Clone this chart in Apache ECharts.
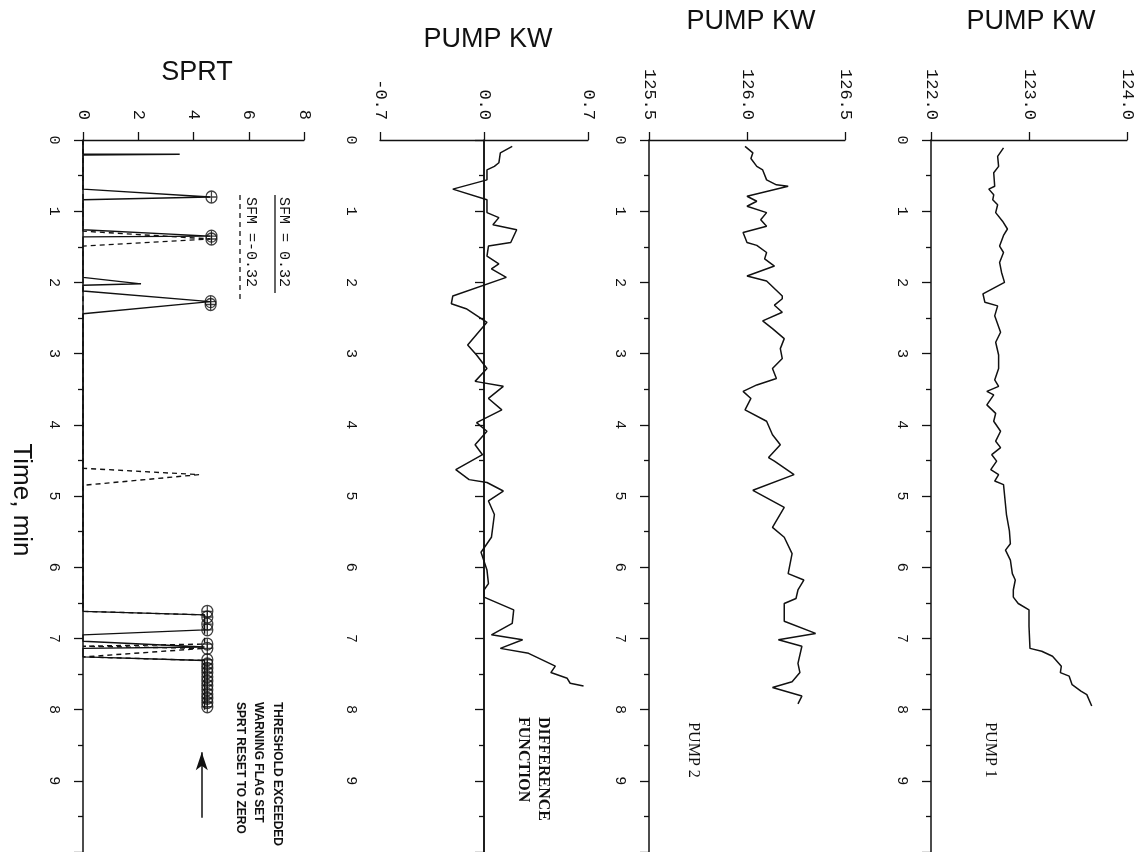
<!DOCTYPE html>
<html>
<head>
<meta charset="utf-8">
<script src="https://cdn.jsdelivr.net/npm/echarts/dist/echarts.min.js"></script>
<style>
  html, body { margin: 0; padding: 0; background: #fff; }
  #chart { width: 1147px; height: 852px; }
</style>
</head>
<body>
<div id="chart"></div>
<script>
// time in minutes
const p1Time = [0.11,0.23,0.37,0.46,0.65,0.69,0.77,0.84,0.91,1.02,1.14,1.25,1.34,1.49,1.58,1.72,1.86,2.00,2.16,2.28,2.33,2.47,2.70,2.84,3.02,3.21,3.37,3.46,3.53,3.58,3.72,3.84,3.95,4.09,4.23,4.32,4.42,4.51,4.63,4.70,4.79,4.84,5.12,5.26,5.49,5.67,5.76,5.90,6.09,6.18,6.32,6.42,6.51,6.60,6.83,7.14,7.18,7.25,7.39,7.48,7.53,7.65,7.74,7.79,7.95]
const p1Kw = [122.74,122.68,122.69,122.64,122.65,122.59,122.64,122.63,122.68,122.66,122.73,122.78,122.74,122.70,122.74,122.70,122.72,122.75,122.53,122.55,122.68,122.65,122.71,122.66,122.69,122.69,122.65,122.69,122.57,122.64,122.57,122.66,122.64,122.71,122.66,122.71,122.62,122.67,122.61,122.69,122.65,122.74,122.76,122.77,122.80,122.81,122.76,122.81,122.83,122.86,122.84,122.84,122.89,123.00,123.00,123.01,123.13,123.24,123.33,123.32,123.41,123.44,123.53,123.59,123.64]

const p2Time = [0.09,0.18,0.26,0.37,0.42,0.56,0.63,0.65,0.79,0.86,0.93,1.02,1.12,1.21,1.30,1.44,1.48,1.58,1.67,1.77,1.91,1.98,2.19,2.23,2.32,2.42,2.54,2.65,2.79,2.93,3.07,3.21,3.35,3.44,3.53,3.63,3.79,3.95,4.14,4.28,4.46,4.51,4.70,4.92,5.16,5.44,5.58,5.81,6.09,6.18,6.32,6.44,6.51,6.76,6.93,7.02,7.11,7.35,7.48,7.61,7.69,7.81,7.92]
const p2Kw = [125.99,126.03,126.02,126.05,126.08,126.10,126.15,126.21,126.00,126.05,126.00,126.10,126.07,126.10,125.98,126.00,126.05,126.10,126.09,126.14,126.00,126.10,126.18,126.18,126.14,126.18,126.08,126.13,126.19,126.17,126.18,126.13,126.15,126.05,125.98,126.02,125.99,126.10,126.13,126.17,126.11,126.14,126.24,126.03,126.19,126.13,126.19,126.23,126.21,126.29,126.26,126.25,126.19,126.19,126.35,126.16,126.28,126.26,126.27,126.23,126.13,126.28,126.26]

const diffTime = [0.09,0.18,0.32,0.37,0.42,0.56,0.69,0.84,1.02,1.09,1.19,1.26,1.44,1.49,1.63,1.74,1.81,1.93,2.19,2.30,2.37,2.56,2.88,3.02,3.21,3.39,3.46,3.63,3.79,3.97,4.09,4.28,4.42,4.63,4.77,4.81,4.93,5.07,5.26,5.58,5.67,5.79,6.04,6.23,6.32,6.42,6.60,6.79,6.95,7.02,7.14,7.21,7.39,7.48,7.56,7.63,7.67]
const diffKw = [0.19,0.11,0.10,0.07,0.02,0.02,-0.21,0.02,0.02,0.10,0.06,0.22,0.18,0.03,0.02,0.10,0.05,0.15,-0.21,-0.22,-0.12,0.02,-0.11,-0.05,0.02,-0.06,0.13,0.03,0.12,-0.05,0.02,-0.06,-0.01,-0.19,-0.10,0.02,0.13,0.03,0.07,0.05,0.02,-0.02,0.02,0.03,0.00,0.00,0.20,0.19,0.05,0.26,0.11,0.30,0.48,0.45,0.56,0.58,0.67]

// SPRT, SFM = 0.32 (solid) and SFM = -0.32 (dashed)
const sprtPosTime = [0,0.20,0.20,0.21,0.69,0.80,0.84,1.26,1.35,1.36,1.93,2.02,2.04,2.12,2.27,2.44,6.62,6.67,6.88,6.95,7.04,7.12,7.14,7.26,7.31,8.00]
const sprtPos = [0,0,3.5,0,0,4.6,0,0,4.6,0,0,2.1,0,0,4.6,0,0,4.4,4.4,0,0,4.4,0,0,4.4,4.4]
const sprtNegTime = [0,1.28,1.39,1.49,4.61,4.70,4.85,6.62,6.67,7.08,7.11,7.14,7.26,7.31,8.00]
const sprtNeg = [0,0,4.6,0,0,4.2,0,0,4.4,4.4,0,4.4,0,4.4,4.4]
// threshold exceeded flags
const flagTime = [0.80,1.35,1.39,2.27,2.31,6.62,6.70,6.80,6.88,7.08,7.14,7.30,7.36,7.42,7.48,7.54,7.60,7.66,7.72,7.78,7.84,7.90,7.96]
const flagSprt = [4.65,4.65,4.65,4.62,4.62,4.5,4.5,4.5,4.5,4.5,4.5,4.5,4.5,4.5,4.5,4.5,4.5,4.5,4.5,4.5,4.5,4.5,4.5]

const timeTicks = [0, 1, 2, 3, 4, 5, 6, 7, 8, 9]

const ink = '#111'
const monoFont = '"Liberation Mono", "DejaVu Sans Mono", monospace'
const sansFont = '"Liberation Sans", Arial, sans-serif'
const serifFont = '"Liberation Serif", "DejaVu Serif", serif'

const chart = echarts.init(document.getElementById('chart'), null, { renderer: 'canvas' })

const panels = [
  { left: 931, width: 196, min: 122, max: 124, interval: 1, digits: 1 },
  { left: 649, width: 196, min: 125.5, max: 126.5, interval: 0.5, digits: 1 },
  { left: 380, width: 208, min: -0.7, max: 0.7, interval: 0.7, digits: 1 },
  { left: 83, width: 221, min: 0, max: 8, interval: 2, digits: 0 },
]

function pairs(times, vals) {
  return times.map((t, i) => [vals[i], t])
}

function rotText(text, x, y, font, align) {
  return {
    type: 'text',
    x: x,
    y: y,
    rotation: -Math.PI / 2,
    style: {
      text: text,
      font: font,
      fill: ink,
      align: align || 'left',
      textAlign: align || 'left',
      verticalAlign: 'middle',
      textVerticalAlign: 'middle',
    },
  }
}

const option = {
  animation: false,
  backgroundColor: '#fff',
  title: [
    { text: 'PUMP KW', left: 1031, top: 8 },
    { text: 'PUMP KW', left: 751, top: 8 },
    { text: 'PUMP KW', left: 488, top: 26 },
    { text: 'SPRT', left: 197, top: 59 },
  ].map((t) => ({
    ...t,
    textAlign: 'center',
    padding: 0,
    textStyle: { fontFamily: sansFont, fontSize: 27, fontWeight: 'normal', color: ink },
  })),
  grid: panels.map((p) => ({ left: p.left, width: p.width, top: 140, height: 717 })),
  xAxis: panels.map((p, i) => ({
    type: 'value',
    gridIndex: i,
    position: 'top',
    min: p.min,
    max: p.max,
    interval: p.interval,
    axisLine: { show: true, lineStyle: { color: ink, width: 1.3 } },
    axisTick: { show: true, length: 8, lineStyle: { color: ink, width: 1.3 } },
    splitLine: { show: false },
    axisLabel: {
      rotate: -90,
      margin: 20,
      color: ink,
      fontFamily: monoFont,
      fontSize: 17,
      formatter: (v) => v.toFixed(p.digits),
    },
  })),
  yAxis: panels.map((p, i) => ({
    type: 'value',
    gridIndex: i,
    inverse: true,
    min: 0,
    max: 10,
    interval: 1,
    axisLine: { show: true, lineStyle: { color: ink, width: 1.5 } },
    axisTick: { show: true, length: 9, lineStyle: { color: ink, width: 1.3 } },
    minorTick: { show: true, splitNumber: 2, length: 5, lineStyle: { color: ink, width: 1.3 } },
    splitLine: { show: false },
    axisLabel: {
      rotate: -90,
      margin: 22,
      color: ink,
      fontFamily: monoFont,
      fontSize: 15,
      showMaxLabel: false,
      formatter: (v) => (timeTicks.indexOf(v) >= 0 ? String(v) : ''),
    },
  })),
  series: [
    {
      type: 'line', xAxisIndex: 0, yAxisIndex: 0,
      data: pairs(p1Time, p1Kw),
      symbol: 'none', lineStyle: { color: ink, width: 1.5 },
    },
    {
      type: 'line', xAxisIndex: 1, yAxisIndex: 1,
      data: pairs(p2Time, p2Kw),
      symbol: 'none', lineStyle: { color: ink, width: 1.5 },
    },
    {
      type: 'line', xAxisIndex: 2, yAxisIndex: 2,
      data: pairs(diffTime, diffKw),
      symbol: 'none', lineStyle: { color: ink, width: 1.5 },
      markLine: {
        silent: true, symbol: 'none', label: { show: false },
        lineStyle: { color: ink, width: 1.5, type: 'solid' },
        data: [{ xAxis: 0 }],
      },
    },
    {
      type: 'line', xAxisIndex: 3, yAxisIndex: 3,
      data: pairs(sprtPosTime, sprtPos),
      symbol: 'none', lineStyle: { color: ink, width: 1.4 },
      markLine: {
        silent: true, label: { show: false },
        symbol: ['none', 'arrow'], symbolSize: [9, 18],
        lineStyle: { color: ink, width: 1.5, type: 'solid' },
        data: [[{ coord: [4.3, 9.52] }, { coord: [4.3, 8.6] }]],
      },
    },
    {
      type: 'line', xAxisIndex: 3, yAxisIndex: 3,
      data: pairs(sprtNegTime, sprtNeg),
      symbol: 'none', lineStyle: { color: ink, width: 1.4, type: [5, 4] },
    },
    {
      type: 'scatter', xAxisIndex: 3, yAxisIndex: 3,
      data: pairs(flagTime, flagSprt),
      symbol: 'path://M0,10 A10,10 0 1,0 20,10 A10,10 0 1,0 0,10 Z M0,10 L20,10 M10,0 L10,20',
      symbolSize: [11, 12],
      itemStyle: { color: 'rgba(0,0,0,0)', borderColor: ink, borderWidth: 1.3 },
    },
  ],
  graphic: [
    rotText('Time, min', 21, 500, '26px ' + sansFont, 'center'),
    rotText('PUMP 1', 990, 750, '16px ' + serifFont, 'center'),
    rotText('PUMP 2', 693, 750, '16px ' + serifFont, 'center'),
    rotText('DIFFERENCE', 543, 717, 'bold 16px ' + serifFont),
    rotText('FUNCTION', 523, 717, 'bold 16px ' + serifFont),
    rotText('SFM = 0.32', 284, 197, '15px ' + monoFont),
    rotText('SFM =-0.32', 251, 197, '15px ' + monoFont),
    rotText('THRESHOLD EXCEEDED', 277, 702, 'bold 12px ' + sansFont),
    rotText('WARNING FLAG SET', 258, 702, 'bold 12px ' + sansFont),
    rotText('SPRT RESET TO ZERO', 240, 702, 'bold 12px ' + sansFont),
    {
      type: 'line',
      shape: { x1: 275, y1: 195, x2: 275, y2: 293 },
      style: { stroke: ink, lineWidth: 1.3 },
    },
    {
      type: 'line',
      shape: { x1: 240, y1: 195, x2: 240, y2: 300 },
      style: { stroke: ink, lineWidth: 1.3, lineDash: [5, 4] },
    },
  ],
}

chart.setOption(option)
</script>
</body>
</html>
